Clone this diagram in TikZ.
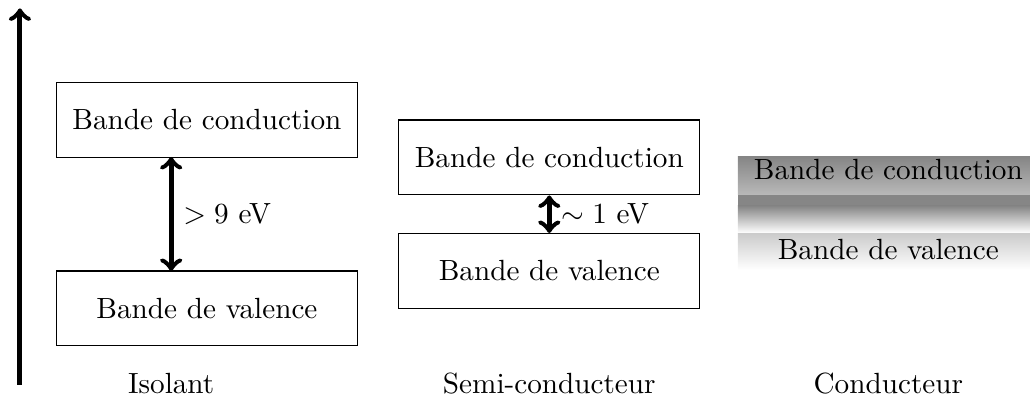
\documentclass[tikz,border=0pt]{standalone}
\usepackage{tikz}
\usetikzlibrary{shapes,arrows,positioning,calc}

\tikzset{
  bande/.style={rectangle, draw, minimum width=3.62cm, minimum height=0.9cm},
  gap/.style={<->, line width=1.7pt},
}

\begin{document}
\begin{tikzpicture}
\useasboundingbox (0,0) rectangle (12.395,4.801);

% axe de l'energie
\coordinate (bas) at (0.24,0.17);
\coordinate (haut) at (0.24,4.70);
\draw[->, line width=1.7pt] (bas) -- (haut);

% isolant
\node[bande] (iso_bc) at (2.49,3.36) {Bande de conduction};
\node[bande] (iso_bv) at (2.49,1.09) {Bande de valence};
\draw[gap] (2.06,2.912) -- (2.06,1.54) node[midway, right] {$> 9$ eV};
\node (iso) at (2.06,0.19) {Isolant};

% semi-conducteur
\node[bande] (sc_bc) at (6.61,2.906) {Bande de conduction};
\node[bande] (sc_bv) at (6.61,1.54) {Bande de valence};
\draw[gap] (sc_bc.south) -- (sc_bv.north) node[midway, right] {$\sim 1$ eV};
\node (sc) at (6.61,0.19) {Semi-conducteur};

% conducteur
\shade[top color=gray!95, bottom color=gray!55] (8.88,2.455) rectangle (12.395,2.912);
\fill[gray!95] (8.88,2.323) rectangle (12.395,2.455);
\shade[top color=gray!95, bottom color=white] (8.88,1.998) rectangle (12.395,2.323);
\shade[top color=gray!40, bottom color=white] (8.88,1.552) rectangle (12.395,1.986);
\node[anchor=base] (co_bc) at (10.69,2.635) {Bande de conduction};
\node[anchor=base] (co_bv) at (10.69,1.673) {Bande de valence};
\node (co) at (10.69,0.19) {Conducteur};
\end{tikzpicture}
\end{document}
